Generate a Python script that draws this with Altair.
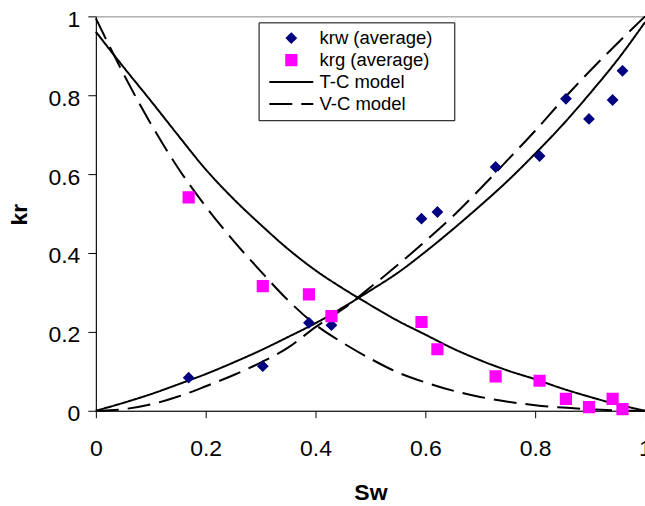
import altair as alt
import pandas as pd

# Measured relative permeabilities (averaged) at each water saturation
sw_points = [0.169, 0.304, 0.388, 0.429, 0.593, 0.622, 0.728, 0.808, 0.856, 0.898, 0.941, 0.959]
krw_avg = [0.084, 0.113, 0.223, 0.217, 0.487, 0.504, 0.618, 0.646, 0.791, 0.740, 0.788, 0.862]
krg_avg = [0.541, 0.316, 0.295, 0.240, 0.225, 0.156, 0.087, 0.076, 0.030, 0.009, 0.030, 0.004]

# Model curves sampled along Sw
sw_model = [0.0, 0.05, 0.1, 0.15, 0.2, 0.25, 0.3, 0.35, 0.4, 0.45, 0.5,
            0.55, 0.6, 0.65, 0.7, 0.75, 0.8, 0.85, 0.9, 0.95, 1.0]
krw_tc = [0.0, 0.02, 0.042, 0.067, 0.093, 0.122, 0.153, 0.187, 0.222, 0.262, 0.305,
          0.35, 0.403, 0.46, 0.52, 0.583, 0.652, 0.725, 0.805, 0.89, 0.985]
krg_tc = [0.961, 0.872, 0.786, 0.698, 0.612, 0.538, 0.472, 0.41, 0.356, 0.31, 0.268,
          0.228, 0.193, 0.158, 0.128, 0.102, 0.08, 0.056, 0.035, 0.016, 0.0]
krw_vc = [0.0, 0.004, 0.016, 0.036, 0.062, 0.09, 0.122, 0.16, 0.212, 0.258, 0.313,
          0.37, 0.43, 0.493, 0.563, 0.636, 0.71, 0.788, 0.862, 0.932, 1.0]
krg_vc = [0.995, 0.855, 0.728, 0.615, 0.518, 0.432, 0.354, 0.28, 0.218, 0.172, 0.132,
          0.097, 0.072, 0.051, 0.035, 0.023, 0.014, 0.008, 0.004, 0.001, 0.0]

series = ["krw (average)", "krg (average)", "T-C model", "V-C model"]
colors = ["#000080", "#FF00FF", "#000000", "#000000"]

n = len(sw_points)
points = pd.DataFrame({
    "Sw": sw_points + sw_points,
    "kr": krw_avg + krg_avg,
    "series": [series[0]] * n + [series[1]] * n,
})

m = len(sw_model)
curves = pd.DataFrame({
    "Sw": sw_model * 4,
    "kr": krw_tc + krg_tc + krw_vc + krg_vc,
    "series": [series[2]] * (2 * m) + [series[3]] * (2 * m),
    "curve": ["krw T-C"] * m + ["krg T-C"] * m + ["krw V-C"] * m + ["krg V-C"] * m,
})

font = "Liberation Sans"
ticks = [0, 0.2, 0.4, 0.6, 0.8, 1]

x = alt.X(
    "Sw:Q",
    scale=alt.Scale(domain=[0, 1], nice=False),
    axis=alt.Axis(
        values=ticks, format="~g", title="Sw", grid=False,
        labelFont=font, labelFontSize=23, labelColor="black",
        labelPadding=20, labelFlush=False, labelOverlap=False,
        tickSize=7, tickColor="black", domainColor="black",
        titleFont=font, titleFontSize=23, titleFontWeight="bold", titleColor="black",
        titleX=275, titleY=89, titleBaseline="alphabetic", titleAlign="center",
    ),
)
y = alt.Y(
    "kr:Q",
    scale=alt.Scale(domain=[0, 1], nice=False),
    axis=alt.Axis(
        values=ticks, format="~g", title="kr", grid=False,
        labelFont=font, labelFontSize=23, labelColor="black",
        labelPadding=8, labelBaseline="alphabetic", labelOffset=10,
        labelFlush=False, labelOverlap=False,
        tickSize=8, tickColor="black", domainColor="black",
        titleFont=font, titleFontSize=23, titleFontWeight="bold", titleColor="black",
        titleX=-69, titleY=198, titleAngle=270, titleBaseline="alphabetic", titleAlign="center",
    ),
)

# One shared legend: colour, symbol shape and dash pattern all keyed on the series name
legend = alt.Legend(
    title=None, orient="none", legendX=163, legendY=6, direction="vertical",
    strokeColor="black", fillColor="white", padding=6.5,
    labelFont=font, labelFontSize=18.5, labelColor="black",
    labelOffset=19, symbolOffset=17,
    symbolSize=144, symbolStrokeWidth=2, symbolOpacity=1, rowPadding=3,
)

diamond = "M0,-0.75L0.75,0L0,0.75L-0.75,0Z"
square = "M-0.85,-0.85H0.85V0.85H-0.85Z"
# legend line sample; the trailing move-to leaves room on the right of the legend box
stroke_line = "M-3.67,0H3.67M25.3,0"

color_scale = alt.Scale(domain=series, range=colors)
shape_scale = alt.Scale(domain=series, range=[diamond, square, stroke_line, stroke_line])
dash_scale = alt.Scale(domain=series, range=[[1, 0], [1, 0], [1, 0], [23, 9]])

lines = alt.Chart(curves).mark_line(strokeWidth=2, interpolate="monotone").encode(
    x=x,
    y=y,
    color=alt.Color("series:N", scale=color_scale, legend=legend),
    strokeDash=alt.StrokeDash("series:N", scale=dash_scale, legend=legend),
    detail="curve:N",
)

marks = alt.Chart(points).mark_point(filled=True, size=144, opacity=1, strokeWidth=2).encode(
    x=x,
    y=y,
    color=alt.Color("series:N", scale=color_scale, legend=legend),
    stroke=alt.Stroke("series:N", scale=color_scale, legend=None),
    shape=alt.Shape("series:N", scale=shape_scale, legend=legend),
)

chart = alt.layer(lines, marks).properties(
    width=550,
    height=395,
    autosize=alt.AutoSizeParams(type="none"),
    padding={"left": 96, "top": 16, "right": 0, "bottom": 95},
    background="white",
).configure_view(stroke="#888888", strokeWidth=1)

chart.save("out.html", embed_options={"renderer": "svg", "actions": False})
